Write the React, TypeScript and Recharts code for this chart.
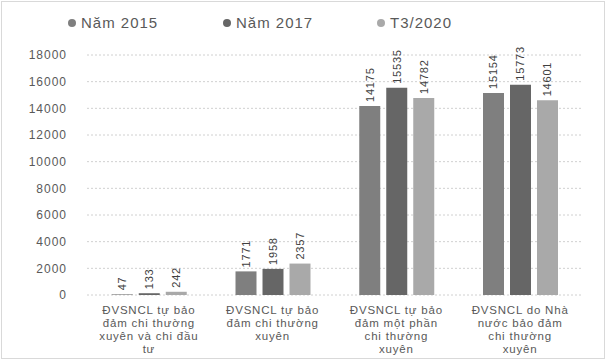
import React from 'react';
import { BarChart, Bar, XAxis, YAxis, CartesianGrid, Legend, LabelList } from 'recharts';

const categories = [
  'ĐVSNCL tự bảo|đảm chi thường|xuyên và chi đầu|tư',
  'ĐVSNCL tự bảo|đảm chi thường|xuyên',
  'ĐVSNCL tự bảo|đảm một phần|chi thường|xuyên',
  'ĐVSNCL do Nhà|nước bảo đảm|chi thường|xuyên',
];
const seriesNames = ['Năm 2015', 'Năm 2017', 'T3/2020'];
const values2015 = [47, 1771, 14175, 15154];
const values2017 = [133, 1958, 15535, 15773];
const values2020 = [242, 2357, 14782, 14601];
const yTicks = [0, 2000, 4000, 6000, 8000, 10000, 12000, 14000, 16000, 18000];

const colors = ['#7f7f7f', '#666666', '#a9a9a9'];
const keys = ['y2015', 'y2017', 'y2020'];

const data = categories.map((c, i) => ({
  name: c,
  y2015: values2015[i],
  y2017: values2017[i],
  y2020: values2020[i],
}));

const FONT = '"Liberation Sans", Arial, sans-serif';

const XTick = (props: any) => {
  const { x, y, payload } = props;
  const lines = String(payload.value).split('|');
  return (
    <g transform={`translate(${x},${y})`}>
      {lines.map((l, i) => (
        <text key={i} x={0} y={11 + i * 13} textAnchor="middle" fill="#595959" fontSize={11.5} letterSpacing={0.8} fontFamily={FONT}>
          {l}
        </text>
      ))}
    </g>
  );
};

const RotLabel = (props: any) => {
  const { x, y, width, value } = props;
  const cx = x + width / 2;
  const cy = y - 4;
  return (
    <text x={cx} y={cy} transform={`rotate(-90 ${cx} ${cy})`} textAnchor="start" dominantBaseline="central" fill="#404040" fontSize={11} letterSpacing={0.8} fontFamily={FONT}>
      {value}
    </text>
  );
};

const LegendContent = (props: any) => {
  const { payload } = props;
  const xs = [72, 227, 381];
  return (
    <svg width={613} height={40} style={{ display: 'block' }}>
      {payload.map((p: any, i: number) => (
        <g key={i}>
          <circle cx={xs[i]} cy={23} r={4} fill={p.color} />
          <text x={xs[i] + 9} y={28} fontSize={15} letterSpacing={1} fill="#595959" fontFamily={FONT}>
            {p.value}
          </text>
        </g>
      ))}
    </svg>
  );
};

export default function App() {
  return (
    <div style={{ position: 'fixed', left: 0, top: 0, width: 613, height: 362, background: '#fff' }}>
      <div style={{ position: 'absolute', left: 1, top: 1, width: 604, height: 358, border: '1px solid #d9d9d9', boxSizing: 'border-box' }} />
      <BarChart
        width={613}
        height={362}
        data={data}
        margin={{ top: 15, right: 31, bottom: 0, left: 0 }}
        barCategoryGap="20%"
        barGap={6}
      >
        <CartesianGrid vertical={false} stroke="#d0d0d0" strokeDasharray="2 2" />
        <XAxis dataKey="name" height={67} axisLine={false} tickLine={false} tick={<XTick />} interval={0} />
        <YAxis
          width={87}
          domain={[0, 18000]}
          ticks={yTicks}
          axisLine={false}
          tickLine={false}
          tickSize={0}
          tickMargin={20}
          tick={{ fill: '#595959', fontSize: 12, letterSpacing: 1, fontFamily: FONT }}
          interval={0}
        />
        <Legend
          verticalAlign="top"
          align="left"
          wrapperStyle={{ top: 0, left: 0, width: 613, height: 40 }}
          content={<LegendContent />}
        />
        {keys.map((k, i) => (
          <Bar key={k} dataKey={k} name={seriesNames[i]} fill={colors[i]} isAnimationActive={false}>
            <LabelList dataKey={k} content={<RotLabel />} />
          </Bar>
        ))}
      </BarChart>
    </div>
  );
}
